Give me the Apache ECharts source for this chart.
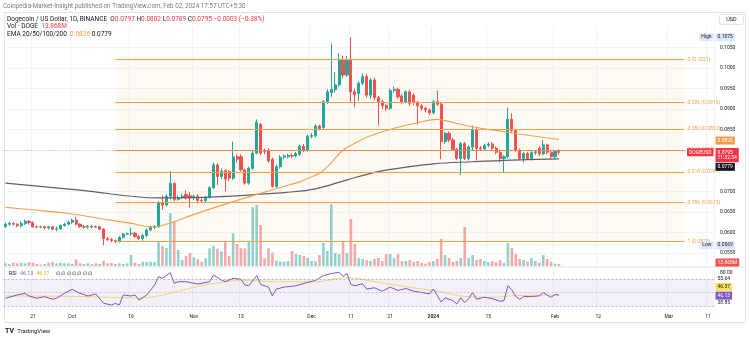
<!DOCTYPE html>
<html><head><meta charset="utf-8">
<script src="https://cdn.jsdelivr.net/npm/echarts@6/dist/echarts.min.js"></script>
<style>html,body{margin:0;padding:0;background:#fff}#c{width:750px;height:339px}</style>
</head><body><div id="c"></div><script>
const FONT = 'Roboto, "Liberation Sans", sans-serif';
// ---------- data ----------
const startDate = [2023, 8, 14]; // Sep 14 2023 (month 0-based)
const dayCount = 181;            // visible days incl. future space up to Mar 12 2024
// [open, close, low, high]
const ohlc = [
[0.0614,0.0620,0.0611,0.0624],[0.0620,0.0622,0.0616,0.0626],[0.0622,0.0620,0.0617,0.0625],[0.0620,0.0616,0.0613,0.0622],
[0.0616,0.0622,0.0612,0.0627],[0.0622,0.0627,0.0618,0.0631],[0.0627,0.0624,0.0619,0.0630],[0.0624,0.0614,0.0611,0.0627],
[0.0614,0.0613,0.0610,0.0617],[0.0613,0.0614,0.0610,0.0616],[0.0614,0.0611,0.0608,0.0617],[0.0611,0.0614,0.0607,0.0616],
[0.0614,0.0608,0.0605,0.0616],[0.0608,0.0609,0.0603,0.0614],[0.0609,0.0617,0.0606,0.0619],[0.0617,0.0620,0.0614,0.0623],
[0.0620,0.0625,0.0617,0.0628],[0.0625,0.0630,0.0621,0.0634],[0.0630,0.0620,0.0617,0.0638],[0.0620,0.0614,0.0611,0.0623],
[0.0614,0.0613,0.0609,0.0618],[0.0613,0.0615,0.0609,0.0618],[0.0615,0.0613,0.0610,0.0618],[0.0613,0.0614,0.0611,0.0617],
[0.0614,0.0608,0.0605,0.0616],[0.0608,0.0585,0.0569,0.0610],[0.0585,0.0583,0.0579,0.0589],[0.0583,0.0580,0.0576,0.0586],
[0.0580,0.0578,0.0574,0.0583],[0.0578,0.0588,0.0575,0.0591],[0.0588,0.0596,0.0585,0.0599],[0.0596,0.0597,0.0593,0.0600],
[0.0597,0.0598,0.0592,0.0612],[0.0598,0.0590,0.0587,0.0601],[0.0590,0.0585,0.0582,0.0594],[0.0585,0.0593,0.0580,0.0596],
[0.0593,0.0606,0.0589,0.0609],[0.0606,0.0612,0.0603,0.0616],[0.0612,0.0614,0.0608,0.0618],[0.0614,0.0672,0.0611,0.0676],
[0.0672,0.0667,0.0655,0.0690],[0.0667,0.0688,0.0663,0.0693],[0.0688,0.0719,0.0680,0.0750],[0.0719,0.0680,0.0676,0.0722],
[0.0680,0.0685,0.0677,0.0690],[0.0685,0.0688,0.0681,0.0694],[0.0692,0.0684,0.0680,0.0702],[0.0689,0.0684,0.0660,0.0698],
[0.0684,0.0688,0.0678,0.0692],[0.0688,0.0678,0.0670,0.0693],[0.0678,0.0677,0.0672,0.0683],[0.0677,0.0686,0.0674,0.0689],
[0.0686,0.0709,0.0683,0.0713],[0.0709,0.0764,0.0705,0.0770],[0.0764,0.0736,0.0715,0.0768],[0.0736,0.0749,0.0730,0.0756],
[0.0750,0.0730,0.0700,0.0754],[0.0748,0.0732,0.0725,0.0752],[0.0732,0.0784,0.0728,0.0821],[0.0784,0.0778,0.0770,0.0790],
[0.0784,0.0752,0.0748,0.0790],[0.0752,0.0720,0.0716,0.0755],[0.0720,0.0756,0.0716,0.0760],[0.0756,0.0793,0.0752,0.0800],
[0.0793,0.0868,0.0790,0.0875],[0.0863,0.0793,0.0788,0.0866],[0.0800,0.0797,0.0790,0.0804],[0.0800,0.0774,0.0770,0.0805],
[0.0778,0.0712,0.0709,0.0782],[0.0712,0.0760,0.0708,0.0765],[0.0760,0.0783,0.0755,0.0788],[0.0783,0.0786,0.0778,0.0790],
[0.0784,0.0787,0.0780,0.0791],[0.0787,0.0786,0.0781,0.0792],[0.0786,0.0792,0.0782,0.0796],[0.0790,0.0810,0.0786,0.0814],
[0.0810,0.0799,0.0795,0.0815],[0.0800,0.0834,0.0796,0.0838],[0.0834,0.0836,0.0829,0.0842],[0.0835,0.0859,0.0831,0.0863],
[0.0859,0.0853,0.0848,0.0862],[0.0855,0.0918,0.0852,0.0922],[0.0918,0.0942,0.0912,0.0948],[0.0940,0.0948,0.0930,0.1060],
[0.0947,0.0959,0.0940,0.0990],[0.0959,0.1019,0.0955,0.1036],[0.1019,0.0983,0.0975,0.1030],[0.0983,0.1019,0.0978,0.1030],
[0.1019,0.0942,0.0918,0.1075],[0.0942,0.0935,0.0905,0.0950],[0.0938,0.0963,0.0920,0.0968],[0.0963,0.0979,0.0958,0.0987],
[0.0979,0.0934,0.0928,0.0985],[0.0934,0.0971,0.0925,0.0975],[0.0971,0.0928,0.0922,0.0976],[0.0928,0.0918,0.0860,0.0932],
[0.0918,0.0909,0.0900,0.0923],[0.0909,0.0902,0.0895,0.0912],[0.0902,0.0945,0.0898,0.0950],[0.0945,0.0948,0.0940,0.0955],
[0.0948,0.0930,0.0925,0.0952],[0.0932,0.0918,0.0912,0.0936],[0.0918,0.0942,0.0914,0.0946],[0.0942,0.0914,0.0908,0.0946],
[0.0934,0.0916,0.0910,0.0938],[0.0916,0.0908,0.0862,0.0920],[0.0908,0.0902,0.0896,0.0912],[0.0902,0.0898,0.0892,0.0906],
[0.0898,0.0891,0.0886,0.0902],[0.0891,0.0918,0.0887,0.0922],[0.0918,0.0912,0.0908,0.0945],[0.0912,0.0821,0.0778,0.0917],
[0.0821,0.0841,0.0815,0.0845],[0.0841,0.0825,0.0820,0.0846],[0.0825,0.0802,0.0798,0.0830],[0.0802,0.0780,0.0776,0.0806],
[0.0780,0.0816,0.0740,0.0820],[0.0816,0.0780,0.0776,0.0820],[0.0780,0.0808,0.0775,0.0812],[0.0808,0.0849,0.0800,0.0860],
[0.0849,0.0805,0.0776,0.0853],[0.0805,0.0803,0.0798,0.0810],[0.0803,0.0812,0.0800,0.0816],[0.0812,0.0815,0.0807,0.0819],
[0.0815,0.0805,0.0800,0.0820],[0.0805,0.0795,0.0790,0.0809],[0.0795,0.0780,0.0770,0.0798],[0.0780,0.0784,0.0744,0.0788],
[0.0784,0.0875,0.0780,0.0904],[0.0875,0.0848,0.0843,0.0890],[0.0848,0.0800,0.0796,0.0852],[0.0800,0.0780,0.0775,0.0804],
[0.0780,0.0792,0.0770,0.0796],[0.0792,0.0780,0.0776,0.0796],[0.0780,0.0794,0.0775,0.0798],[0.0794,0.0796,0.0789,0.0800],
[0.0805,0.0791,0.0786,0.0810],[0.0791,0.0813,0.0788,0.0825],[0.0813,0.0795,0.0790,0.0816],[0.0795,0.0784,0.0780,0.0798],
[0.0784,0.0797,0.0780,0.0800],[0.0797,0.0795,0.0789,0.0802]
];
// volume, millions DOGE
const volumeM = [19,14,23,19,23,19,28,23,14,9,14,23,28,19,23,19,19,14,47,19,14,19,14,19,14,37,19,23,14,19,14,19,77,23,14,30,28,30,28,175,
140,126,371,315,112,42,70,91,61,47,30,54,124,140,121,103,170,70,229,154,124,124,177,411,427,287,54,124,93,37,30,30,35,105,84,77,70,56,35,35,
77,161,105,434,91,84,168,91,329,154,56,49,42,35,49,56,35,84,84,56,84,35,35,42,28,35,21,16,28,35,49,189,77,56,28,35,56,273,56,77,
42,49,35,28,35,28,42,23,161,126,84,49,42,30,56,35,23,77,49,30,16,13.87];
// EMA readings [day index, value]
const ema50Pts = [[0,0.0661],[9,0.0653],[16,0.0646],[24,0.0634],[32,0.0622],[37,0.0614],[40,0.0617],[49,0.0647],[58,0.0675],[65,0.0695],
[72,0.0715],[75,0.0723],[77,0.0732],[80,0.0744],[83,0.0770],[86,0.0800],[89,0.0817],[93,0.0835],[100,0.0856],[105,0.0867],[110,0.0875],
[112,0.0872],[119,0.0857],[127,0.0845],[134,0.0835],[141,0.0826]];
const ema200Pts = [[0,0.0720],[19,0.0703],[39,0.0684],[49,0.0685],[59,0.0689],[65,0.0693],[71,0.0697],[79,0.0706],[87,0.0728],
[95,0.0748],[103,0.0760],[109,0.0767],[119,0.0772],[129,0.0776],[141,0.0779]];
const rsiPts = [[0,41.4],[3,46.3],[5,48.8],[6,44.8],[8,41.4],[10,43.8],[12,39.9],[13,41.4],[15,48.8],[17,54.7],[19,48.8],[21,44.8],
[23,47.8],[25,34],[27,31.5],[28,34],[29,31.5],[30,46.3],[32,44.8],[33,46.3],[34,38.9],[36,46.3],[38,61.1],[39,73.5],[40,71],[42,79.4],
[43,63.6],[44,66],[46,66],[48,63.6],[49,62.6],[52,66],[53,75.9],[55,68.5],[56,66],[58,71],[60,69.5],[61,61],[62,60],[64,75],[65,62],
[67,58],[68,45],[69,55],[71,58],[74,60],[77,65],[79,68],[81,75],[83,78],[85,80],[86,74],[87,78],[88,62],[89,60],[91,63],[92,55],[94,57],
[96,52],[98,58],[100,53],[102,56],[104,52],[106,50],[108,48],[109,55],[111,36],[112,42],[114,38],[115,33],[116,42],[117,35],[118,41],
[119,50],[120,40],[122,43],[124,41],[126,37],[127,38],[128,60],[129,54],[130,44],[131,40],[132,44],[134,44],[136,45],[137,50],[138,46],
[139,43],[140,47],[141,46.13]];
const rsiMaPts = [[0,45],[19,44],[34,42],[39,45],[44,52],[49,59],[54,64],[61,68],[69,66],[79,66],[87,72],[94,66],[104,57],[111,51],
[117,44],[124,43],[129,45],[135,46],[141,46.37]];
const fibRatios = [0, 0.236, 0.382, 0.5, 0.618, 0.786, 1];
const fibPrices = [0.1021, 0.0916, 0.0852, 0.0800, 0.0747, 0.0673, 0.0578];
const fibStartIdx = 28, fibEndIdx = 173;
const priceTicks = [0.055, 0.060, 0.065, 0.070, 0.085, 0.090, 0.095, 0.100, 0.105];
const xTickDates = ['2023-09-21','2023-10-01','2023-10-16','2023-11-01','2023-11-13','2023-12-01','2023-12-11','2023-12-21',
'2024-01-01','2024-01-15','2024-02-01','2024-02-12','2024-03-01','2024-03-11'];
const xTickText = ['21','Oct','16','Nov','13','Dec','11','21','2024','15','Feb','12','Mar','11'];
const highPrice = 0.1075, lowPrice = 0.0569, lastPrice = 0.0795;
const rsiSide = [55.64, 38.85];

// ---------- build ----------
const dates = [];
for (let i = 0; i < dayCount; i++) {
  const d = new Date(Date.UTC(startDate[0], startDate[1], startDate[2] + i));
  dates.push(d.toISOString().slice(0, 10));
}
const tickMap = {}; xTickDates.forEach((d, i) => tickMap[d] = xTickText[i]);
const isTick = (i, v) => tickMap[v] !== undefined;
const UP = '#26a69a', DN = '#ef5350';
const volData = volumeM.map((v, i) => ({ value: v, itemStyle: { color: ohlc[i][1] >= ohlc[i][0] ? 'rgba(38,166,154,0.5)' : 'rgba(239,83,80,0.5)' } }));
const ema50Last = ema50Pts[ema50Pts.length - 1][1], ema200Last = ema200Pts[ema200Pts.length - 1][1];
const rsiLast = rsiPts[rsiPts.length - 1][1], rsiMaLast = rsiMaPts[rsiMaPts.length - 1][1];

const FIB = '#f6a04d';
const priceMarks = [];
fibRatios.forEach((r, i) => {
  priceMarks.push([
    { coord: [dates[fibStartIdx], fibPrices[i]], lineStyle: { color: FIB, width: 1, type: 'solid' },
      label: { show: true, position: 'end', distance: 3, formatter: r + ' (' + fibPrices[i].toFixed(4) + ')', color: FIB, fontSize: 5, fontFamily: FONT } },
    { coord: [dates[fibEndIdx], fibPrices[i]] }
  ]);
});
priceMarks.push({ yAxis: lastPrice, lineStyle: { color: '#f23645', type: [1, 2], width: 1, opacity: 0.6 }, label: { show: false } });

const xBase = { type: 'category', data: dates, boundaryGap: true, axisLine: { show: false },
  axisTick: { show: false, alignWithLabel: true, interval: isTick }, axisLabel: { show: false },
  splitLine: { show: false } };
const dash = o => ({ type: [2, 2], color: '#9598a1', width: 0.8, opacity: o });

const chart = echarts.init(document.getElementById('c'), null, { renderer: 'canvas' });
chart.setOption({
  animation: false,
  backgroundColor: '#ffffff',
  textStyle: { fontFamily: FONT },
  grid: [
    { left: 3.5, right: 36, top: 27, bottom: 73 },
    { left: 3.5, right: 36, top: 200, bottom: 73 },
    { left: 3.5, right: 36, top: 268, bottom: 29 }
  ],
  xAxis: [
    Object.assign({}, xBase, { gridIndex: 0, splitLine: { show: true, interval: isTick, lineStyle: { color: '#f0f3fa', width: 1 } } }),
    Object.assign({}, xBase, { gridIndex: 1, show: false }),
    Object.assign({}, xBase, { gridIndex: 2,
      splitLine: { show: true, interval: isTick, lineStyle: { color: '#f0f3fa', width: 1 } },
      axisLabel: { show: true, interval: isTick, margin: 4, fontSize: 5, color: '#131722', fontFamily: FONT,
        formatter: v => v === '2024-01-01' ? '{b|2024}' : tickMap[v],
        rich: { b: { fontWeight: 'bold', fontSize: 5, color: '#131722', fontFamily: FONT } } } })
  ],
  yAxis: [
    { gridIndex: 0, type: 'value', position: 'right', min: 0.051836, max: 0.109973, scale: true,
      axisLine: { show: false }, axisTick: { show: false, customValues: priceTicks },
      axisLabel: { customValues: priceTicks, formatter: v => v.toFixed(4), fontSize: 5, color: '#131722', margin: 6, fontFamily: FONT },
      splitLine: { show: true, lineStyle: { color: '#f3f4f8' } } },
    { gridIndex: 1, type: 'value', min: 0, max: 462, show: false },
    { gridIndex: 2, type: 'value', position: 'right', min: 24.07, max: 86.3,
      axisLine: { show: false }, axisTick: { show: false, customValues: [80] },
      axisLabel: { customValues: [80], formatter: v => v.toFixed(2), fontSize: 5, color: '#131722', margin: 6, fontFamily: FONT },
      splitLine: { show: false } }
  ],
  series: [
    { type: 'candlestick', xAxisIndex: 0, yAxisIndex: 0, data: ohlc.map(d => d), barWidth: 2.6, z: 2,
      itemStyle: { color: UP, color0: DN, borderColor: UP, borderColor0: DN, borderWidth: 1 },
      markArea: { silent: true, itemStyle: { color: 'rgba(255,152,0,0.045)' },
        data: [[{ coord: [dates[fibStartIdx], fibPrices[6]] }, { coord: [dates[fibEndIdx], fibPrices[0]] }]] },
      markLine: { silent: true, symbol: ['none', 'none'], animation: false, data: priceMarks } },
    { type: 'line', xAxisIndex: 0, yAxisIndex: 0, data: ema200Pts, smooth: 0.4, symbol: 'none', z: 3,
      lineStyle: { color: '#5d606b', width: 1.2 } },
    { type: 'line', xAxisIndex: 0, yAxisIndex: 0, data: ema50Pts, smooth: 0.4, symbol: 'none', z: 3,
      lineStyle: { color: '#f6a04d', width: 1.1 } },
    { type: 'bar', xAxisIndex: 1, yAxisIndex: 1, data: volData, barWidth: 2.6, z: 1 },
    { type: 'line', xAxisIndex: 2, yAxisIndex: 2, data: rsiMaPts, smooth: 0.4, symbol: 'none', z: 3,
      lineStyle: { color: '#f5d56e', width: 1 } },
    { type: 'line', xAxisIndex: 2, yAxisIndex: 2, data: rsiPts, symbol: 'none', z: 4,
      lineStyle: { color: '#7e57c2', width: 1 },
      markArea: { silent: true, itemStyle: { color: 'rgba(126,87,194,0.09)' }, data: [[{ yAxis: 30 }, { yAxis: 70 }]] },
      markLine: { silent: true, symbol: ['none', 'none'], animation: false, label: { show: false },
        data: [{ yAxis: 70, lineStyle: dash(0.8) }, { yAxis: 50, lineStyle: dash(0.6) }, { yAxis: 30, lineStyle: dash(0.8) }] } }
  ]
});

// ---------- right-scale tags, placed through the axes ----------
const py = v => chart.convertToPixel({ yAxisIndex: 0 }, v);
const vy = v => chart.convertToPixel({ yAxisIndex: 1 }, v);
const ry = v => chart.convertToPixel({ yAxisIndex: 2 }, v);
const TAGX = 715.5;
function tag(id, text, y, bg, fg, align, extra) {
  return { type: 'text', id: id, silent: true, z: 100, x: align === 'right' ? 713.5 : TAGX, y: y,
    style: Object.assign({ text: text, fill: fg, backgroundColor: bg, padding: [1.8, 2, 1.2, 2], fontSize: 5, fontFamily: FONT,
      align: align || 'left', verticalAlign: 'middle' }, extra || {}) };
}
const hdr = (t, rich) => ({ text: t, verticalAlign: 'middle', fontSize: 6.5, fontFamily: FONT, rich: rich });
const r65 = c => ({ fill: c, fontSize: 6.5, fontFamily: FONT });
const r5 = c => ({ fill: c, fontSize: 5.2, fontFamily: FONT });
const BLUE = '#dde8f6';
chart.setOption({ graphic: [
  { type: 'rect', id: 'frame', silent: true, shape: { x: 4.5, y: 12.5, width: 741, height: 310 },
    style: { fill: 'rgba(0,0,0,0)', stroke: '#e0e3eb', lineWidth: 1 } },
  { type: 'line', id: 'sep', silent: true, shape: { x1: 4.5, y1: 267, x2: 745.5, y2: 267 }, style: { stroke: '#e0e3eb', lineWidth: 1 } },
  { type: 'text', id: 'pub', silent: true, x: 3, y: 6, style: { text: 'Coinpedia-Market-Insight published on TradingView.com, Feb 02, 2024 17:57 UTC+5:30',
    fill: '#787b86', fontSize: 6.3, fontFamily: FONT, verticalAlign: 'middle' } },
  { type: 'text', id: 'h1', silent: true, x: 7, y: 19, style: hdr(
    '{t|Dogecoin / US Dollar, 1D, BINANCE}  {l|O}{v|0.0797} {l|H}{v|0.0802} {l|L}{v|0.0789} {l|C}{v|0.0795} {v|−0.0003 (−0.38%)}',
    { t: r65('#131722'), l: r65('#131722'), v: r65('#f23645') }) },
  { type: 'text', id: 'h2', silent: true, x: 7, y: 26.7, style: hdr('{t|Vol · DOGE}  {v|13.868M}', { t: r65('#131722'), v: r65('#f23645') }) },
  { type: 'text', id: 'h3', silent: true, x: 7, y: 34.3, style: hdr('{t|EMA 20/50/100/200}  {o|0.0826} {k|0.0779}',
    { t: r65('#131722'), o: r65('#f59c42'), k: r65('#131722') }) },
  { type: 'rect', id: 'usdbox', silent: true, shape: { x: 719.5, y: 14.5, width: 24, height: 10, r: 2 }, style: { fill: '#fff', stroke: '#e0e3eb', lineWidth: 1 } },
  { type: 'text', id: 'usd', silent: true, x: 731.5, y: 19.5, style: { text: 'USD', fill: '#131722', fontSize: 5.5, fontFamily: FONT, align: 'center', verticalAlign: 'middle' } },
  { type: 'text', id: 'rsihdr', silent: true, x: 9, y: 274, style: { text: '{t|RSI} {p|46.13} {y|46.37}  {g|∅ ∅ ∅ ∅ ∅ ∅ ∅}', verticalAlign: 'middle',
    rich: { t: r5('#131722'), p: r5('#7e57c2'), y: r5('#e0b400'), g: r5('#131722') } } },
  { type: 'text', id: 'logo', silent: true, x: 5, y: 331, style: { text: '{i|TV} {t|TradingView}', verticalAlign: 'middle',
    rich: { i: { fill: '#131722', fontSize: 7, fontWeight: 'bold', fontFamily: FONT }, t: { fill: '#131722', fontSize: 6, fontFamily: FONT } } } },
  tag('hiTag', 'High', py(highPrice), BLUE, '#131722', 'right'),
  tag('hiVal', highPrice.toFixed(4), py(highPrice), BLUE, '#131722'),
  tag('loTag', 'Low', py(lowPrice), BLUE, '#131722', 'right'),
  tag('loVal', lowPrice.toFixed(4), py(lowPrice), BLUE, '#131722'),
  tag('e50', ema50Last.toFixed(4), py(ema50Last) + 1, '#f59c42', '#fff'),
  tag('e200', ema200Last.toFixed(4), py(ema200Last) + 8, '#131722', '#fff'),
  tag('sym', 'DOGEUSD', py(lastPrice), '#f23645', '#fff', 'right'),
  tag('last', lastPrice.toFixed(4) + '\n11:32:34', py(lastPrice) + 2.8, '#f23645', '#fff', 'left', { lineHeight: 5.6 }),
  tag('vol', '13.868M', vy(volumeM[volumeM.length - 1]) - 1.5, '#ef5350', '#fff'),
  tag('rsiA', rsiSide[0].toFixed(2), ry(rsiSide[0]) - 9.7, 'transparent', '#131722'),
  tag('rsiMa', rsiMaLast.toFixed(2), ry(rsiMaLast) - 8, '#f7e25a', '#131722'),
  tag('rsi', rsiLast.toFixed(2), ry(rsiLast) + 0.5, '#7e57c2', '#fff'),
  tag('rsiB', rsiSide[1].toFixed(2), ry(rsiSide[1]) + 3, 'transparent', '#131722')
] });
</script></body></html>
